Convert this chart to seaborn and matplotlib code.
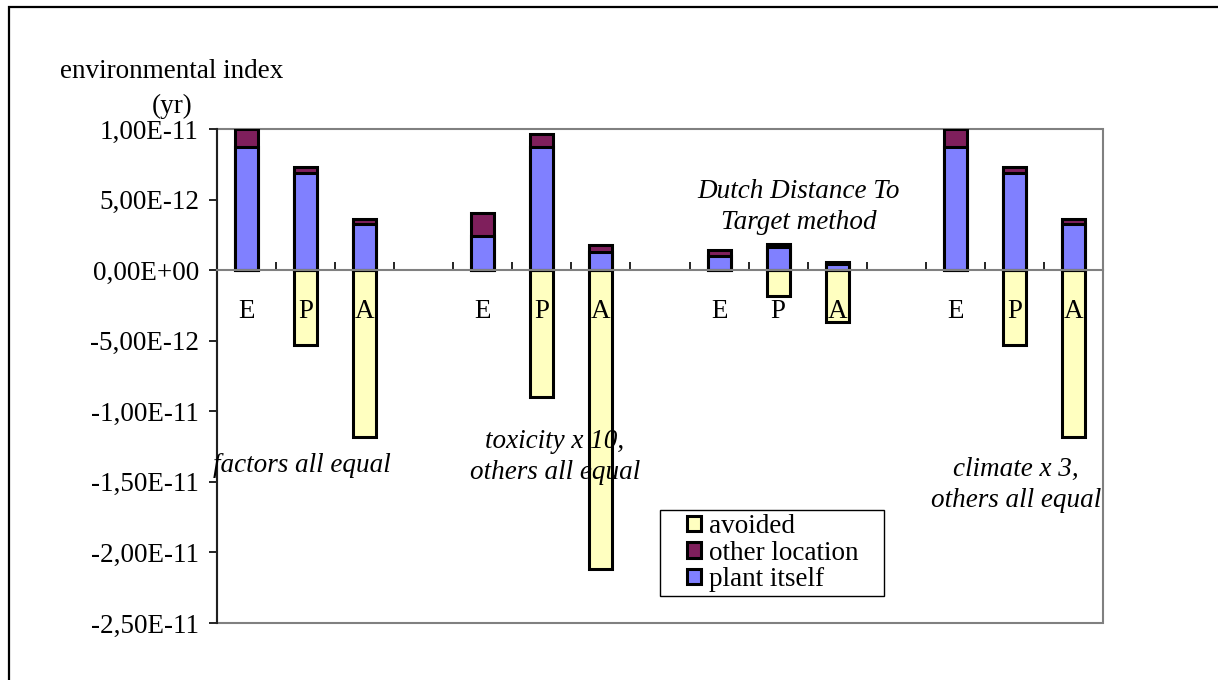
import numpy as np
import pandas as pd
import matplotlib
matplotlib.use("Agg")
import matplotlib.pyplot as plt
import seaborn as sns
from matplotlib.patches import Rectangle
from matplotlib.ticker import FixedLocator, FuncFormatter

# ---- data (values in units of 1e-12 yr) ----
scenarios = ["factors all equal", "toxicity x 10", "Dutch Distance To Target", "climate x 3"]
options = ["E", "P", "A"]
plant_itself = [8.70, 6.86, 3.25, 2.41, 8.70, 1.25, 1.02, 1.65, 0.40, 8.70, 6.86, 3.25]
other_location = [1.30, 0.48, 0.37, 1.61, 0.92, 0.52, 0.40, 0.17, 0.19, 1.30, 0.48, 0.37]
avoided = [0.0, -5.30, -11.85, 0.0, -9.00, -21.20, 0.0, -1.84, -3.70, 0.0, -5.30, -11.85]
y_ticks = [-25, -20, -15, -10, -5, 0, 5, 10]
SCALE = 1e-12

C_PLANT = "#8080FF"
C_OTHER = "#7F1F5C"
C_AVOID = "#FFFFC0"
FS = 19.5

# one slot per bar, with an empty slot between scenario groups
rows = []
for g, scen in enumerate(scenarios):
    for k, opt in enumerate(options):
        i = g * len(options) + k
        rows.append(dict(slot=f"{opt}{g + 1}", option=opt,
                         plant=plant_itself[i] * SCALE,
                         other=other_location[i] * SCALE,
                         avoided=avoided[i] * SCALE))
    if g < len(scenarios) - 1:
        rows.append(dict(slot=f"gap{g + 1}", option="",
                         plant=np.nan, other=np.nan, avoided=np.nan))
df = pd.DataFrame(rows)
df["stack_top"] = df["plant"] + df["other"]
order = df["slot"].tolist()

plt.rcParams["font.family"] = ["Liberation Serif", "DejaVu Serif"]

W, H = 1218, 680
fig = plt.figure(figsize=(W / 100, H / 100), dpi=100)
fig.patch.set_facecolor("white")


def px(x, y):
    return x / W, 1 - y / H


ax = fig.add_axes([217 / W, 1 - 623 / H, (1103 - 217) / W, (623 - 129) / H])

common = dict(data=df, x="slot", order=order, width=0.39, edgecolor="black",
              linewidth=2.2, saturation=1, errorbar=None, ax=ax)
sns.barplot(y="avoided", color=C_AVOID, **common)
sns.barplot(y="stack_top", color=C_OTHER, **common)
sns.barplot(y="plant", color=C_PLANT, **common)

ax.set_xlim(-0.5, len(order) - 0.5)
ax.set_ylim(y_ticks[0] * SCALE, y_ticks[-1] * SCALE)
ax.set_xlabel("")
ax.set_ylabel("")
ax.grid(False)

# y axis in Excel-like scientific notation with decimal comma
ax.yaxis.set_major_locator(FixedLocator([v * SCALE for v in y_ticks]))
ax.yaxis.set_major_formatter(FuncFormatter(lambda v, p: f"{v:.2E}".replace(".", ",")))
ax.tick_params(axis="y", left=True, direction="out", length=6, width=1.2,
               color="black", pad=7, labelsize=FS)

# category axis sits on the zero line
ax.set_xticks(range(len(order)))
ax.set_xticklabels(df["option"])
ax.set_xticks(np.arange(0.5, len(order) - 1, 1), minor=True)
ax.tick_params(axis="x", which="major", bottom=True, length=0, pad=20.5, labelsize=FS)
ax.tick_params(axis="x", which="minor", bottom=True, direction="in", length=6,
               width=1.2, color="black")

ax.spines["bottom"].set_position(("data", 0))
ax.spines["bottom"].set_color("#808080")
ax.spines["bottom"].set_linewidth(1.5)
ax.spines["left"].set_color("#202020")
ax.spines["left"].set_linewidth(1.5)
ax.spines["top"].set_visible(False)
ax.spines["right"].set_visible(False)
ax.add_patch(Rectangle((0, 0), 1, 1, transform=ax.transAxes, fill=False,
                       edgecolor="#808080", linewidth=1.5, clip_on=False, zorder=0.5))

# legend
handles = ax.containers[:3]
labels = ["avoided", "other location", "plant itself"]
ax.legend(handles, labels, loc="upper left", bbox_to_anchor=px(687, 514),
          bbox_transform=fig.transFigure, frameon=False, fontsize=FS,
          handlelength=0.5, handleheight=0.5, handletextpad=0.3,
          labelspacing=0.06, borderpad=0, borderaxespad=0)
fig.add_artist(Rectangle(px(660, 596), (884 - 660) / W, (596 - 510) / H,
                         transform=fig.transFigure, fill=False,
                         edgecolor="black", linewidth=1))

# titles and scenario notes
fig.text(*px(60, 71), "environmental index", ha="left", va="center", fontsize=FS)
fig.text(*px(172, 106), "(yr)", ha="center", va="center", fontsize=FS)
note = dict(ha="center", va="center", fontsize=FS, style="italic", linespacing=1.33)
fig.text(*px(799, 207), "Dutch Distance To\nTarget method", **note)
fig.text(*px(302, 465), "factors all equal", **note)
fig.text(*px(555, 457), "toxicity x 10,\nothers all equal", **note)
fig.text(*px(1016, 485), "climate x 3,\nothers all equal", **note)

# outer chart border
fig.add_artist(Rectangle((9 / W, -1), 2, 2 - 7 / H, transform=fig.transFigure,
                         fill=False, edgecolor="black", linewidth=1.6))

fig.savefig("out.png", dpi=100)
